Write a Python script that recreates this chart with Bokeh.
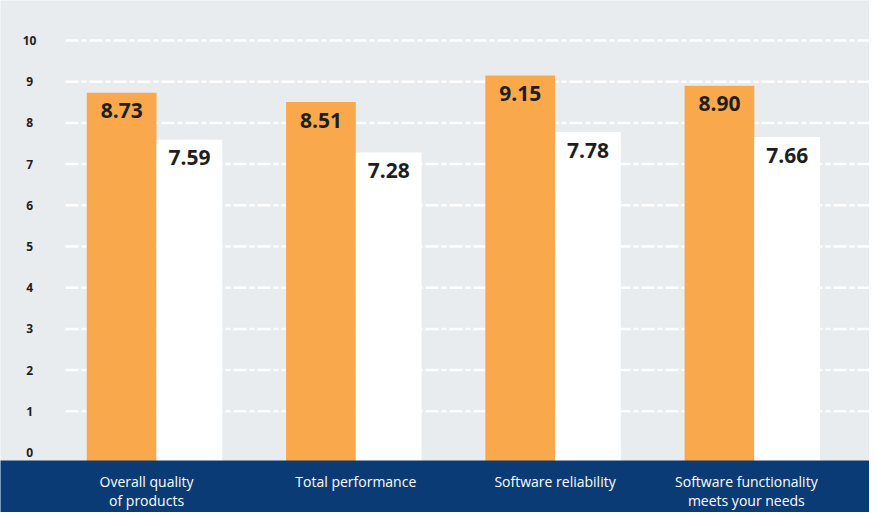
from bokeh.plotting import figure
from bokeh.models import ColumnDataSource, Range1d
from bokeh.core.properties import value
from bokeh.embed import file_html
from bokeh.resources import INLINE

# ---- data ----
categories = ["Overall quality\nof products", "Total performance",
              "Software reliability", "Software functionality\nmeets your needs"]
series_a = [8.73, 8.51, 9.15, 8.90]   # orange bars
series_b = [7.59, 7.28, 7.78, 7.66]   # white bars
y_ticks = [0, 1, 2, 3, 4, 5, 6, 7, 8, 9, 10]
y_tick_labels = ["0", "1", "2", "3", "4", "5", "6", "7", "8", "9", "10"]

# ---- styles ----
BG = "#e8ecef"
ORANGE = "#f9a94b"
NAVY = "#0b3b74"
DARK = "#1e1e1e"
FONT = "Open Sans"
label_shift = [-0.05, 0.0, 0.0, -0.04]  # horizontal nudges of category labels

W, H = 869, 512
p = figure(width=W, height=H, output_backend="svg", toolbar_location=None,
           min_border=0, outline_line_color=None,
           background_fill_color=BG, border_fill_color=BG)
p.x_range = Range1d(-0.783, 3.578)
p.y_range = Range1d(-1.456, 10.971)
p.xaxis.visible = False
p.yaxis.visible = False
p.xgrid.visible = False
p.ygrid.visible = False

xs = list(range(len(categories)))

# grid lines (1..10)
grid_vals = [t for t in y_ticks if t > 0]
p.segment(x0=[-0.457] * len(grid_vals), x1=[3.62] * len(grid_vals),
          y0=grid_vals, y1=grid_vals, line_color="white", line_width=2.5,
          line_dash="13 3 5 3", line_alpha=0.95)

# bars
src = ColumnDataSource(dict(
    xa=[x - 0.175 for x in xs], xb=[x + 0.165 for x in xs],
    a=series_a, b=series_b,
    la=[f"{v:.2f}" for v in series_a], lb=[f"{v:.2f}" for v in series_b],
    ya=[v - 0.44 for v in series_a], yb=[v - 0.44 for v in series_b],
))
p.vbar(x="xa", top="a", bottom=-0.5, width=0.35, source=src,
       fill_color=ORANGE, line_color=None)
p.vbar(x="xb", top="b", bottom=-0.5, width=0.33, source=src,
       fill_color="white", line_color=None)

# value labels
p.text(x="xa", y="ya", text="la", source=src, text_font=value(FONT),
       text_font_style="bold", text_font_size="21px", text_color=DARK,
       text_align="center", text_baseline="middle")
p.text(x="xb", y="yb", text="lb", source=src, text_font=value(FONT),
       text_font_style="bold", text_font_size="21px", text_color=DARK,
       text_align="center", text_baseline="middle")

# navy band
p.quad(left=-1.0, right=4.0, bottom=-2.0, top=-0.194,
       fill_color=NAVY, line_color=None)

# y tick labels
p.text(x=[-0.637] * len(y_ticks), y=y_ticks, text=y_tick_labels,
       text_font=value(FONT), text_font_style="bold", text_font_size="12px",
       text_color=DARK, text_align="center", text_baseline="middle")

# category labels
p.text(x=[x + s for x, s in zip(xs, label_shift)], y=[-0.47] * len(xs),
       text=categories,
       text_font=value(FONT), text_font_size="14px", text_color="white",
       text_align="center", text_baseline="top", text_line_height=1.0)

open("out.html", "w").write(file_html(p, INLINE))
